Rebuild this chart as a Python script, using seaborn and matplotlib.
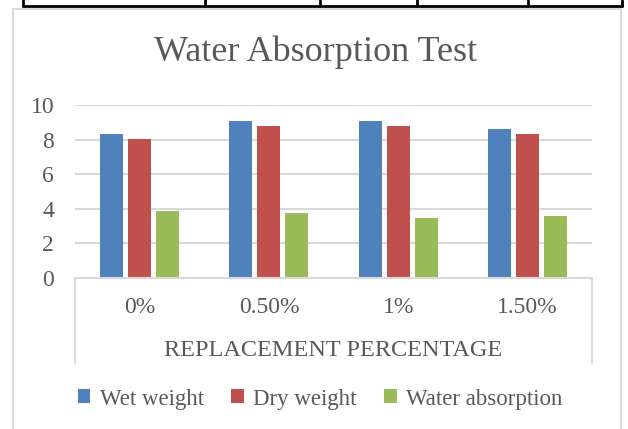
import pandas as pd
import matplotlib.pyplot as plt
import seaborn as sns
from matplotlib.lines import Line2D
from matplotlib.patches import Rectangle

# chart data
categories = ["0%", "0.50%", "1%", "1.50%"]
series = ["Wet weight", "Dry weight", "Water absorption"]
wet_weight = [8.32, 9.07, 9.07, 8.61]
dry_weight = [8.03, 8.78, 8.78, 8.32]
water_absorption = [3.87, 3.76, 3.47, 3.58]
y_ticks = [0, 2, 4, 6, 8, 10]

colors = ["#4F81BD", "#C0504D", "#9BBB59"]
text_col = "#595959"
grid_col = "#D9D9D9"

df = pd.DataFrame({
    "category": categories * 3,
    "series": [series[0]] * 4 + [series[1]] * 4 + [series[2]] * 4,
    "value": wet_weight + dry_weight + water_absorption,
})

sns.set_style("white")
plt.rcParams["font.family"] = ["Liberation Serif", "DejaVu Serif"]

W, H = 628, 429
fig = plt.figure(figsize=(W / 100, H / 100), dpi=100)


def px(x, y):
    # pixel coords (top-left origin) -> figure fraction
    return x / W, 1 - y / H


ax_l, ax_r, ax_t, ax_b = 75, 592, 105, 278
ax = fig.add_axes([ax_l / W, 1 - ax_b / H, (ax_r - ax_l) / W, (ax_b - ax_t) / H])

sns.barplot(data=df, x="category", y="value", hue="series", order=categories,
            hue_order=series, palette=colors, width=0.65, gap=0.18,
            saturation=1, ax=ax, legend=True, edgecolor="none")

ax.set_ylim(0, 10)
ax.set_yticks(y_ticks)
ax.set_xlim(-0.5, 3.5)
ax.yaxis.grid(True, color=grid_col, linewidth=1.5)
ax.set_axisbelow(True)
for side in ["top", "right", "left"]:
    ax.spines[side].set_visible(False)
ax.spines["bottom"].set_color(grid_col)
ax.spines["bottom"].set_linewidth(1.5)
ax.tick_params(axis="both", length=0, labelsize=17, colors=text_col)
ax.tick_params(axis="x", pad=14)
ax.tick_params(axis="y", pad=15)
ax.set_xlabel("")
ax.set_ylabel("")

# category axis end lines going down past the axis title
drop = (363 - ax_b) / (ax_b - ax_t)
for xa in [0, 1]:
    ax.plot([xa, xa], [0, -drop], transform=ax.transAxes, color=grid_col,
            linewidth=1.5, clip_on=False)

fig.text(*px((ax_l + ax_r) / 2, 350), "REPLACEMENT PERCENTAGE", ha="center",
         va="center", fontsize=17.5, color=text_col)
fig.text(*px(316, 52), "Water Absorption Test", ha="center", va="center",
         fontsize=26, color=text_col)

handles, labels = ax.get_legend_handles_labels()
ax.legend_.remove()
fig.legend(handles, labels, loc="center", bbox_to_anchor=px(320, 399), ncol=3,
           frameon=False, fontsize=16.5, labelcolor=text_col, handlelength=0.55,
           handleheight=0.55, handletextpad=0.4, columnspacing=1.2)

# chart outer border
x0, y0 = px(13, 9)
x1, y1 = px(621, 440)
fig.patches.append(Rectangle((x0, y1), x1 - x0, y0 - y1, transform=fig.transFigure,
                             fill=False, edgecolor=grid_col, linewidth=1.5))

# piece of the table above the chart
tx0, ty = px(23, 6)
tx1, _ = px(622, 6)
fig.lines.append(Line2D([tx0, tx1], [ty, ty], transform=fig.transFigure,
                        color="black", linewidth=2))
for xv in [23, 205, 320, 417, 528, 622]:
    xf, _ = px(xv, 0)
    fig.lines.append(Line2D([xf, xf], [1, ty], transform=fig.transFigure,
                            color="black", linewidth=2))

fig.savefig("out.png", dpi=100)
